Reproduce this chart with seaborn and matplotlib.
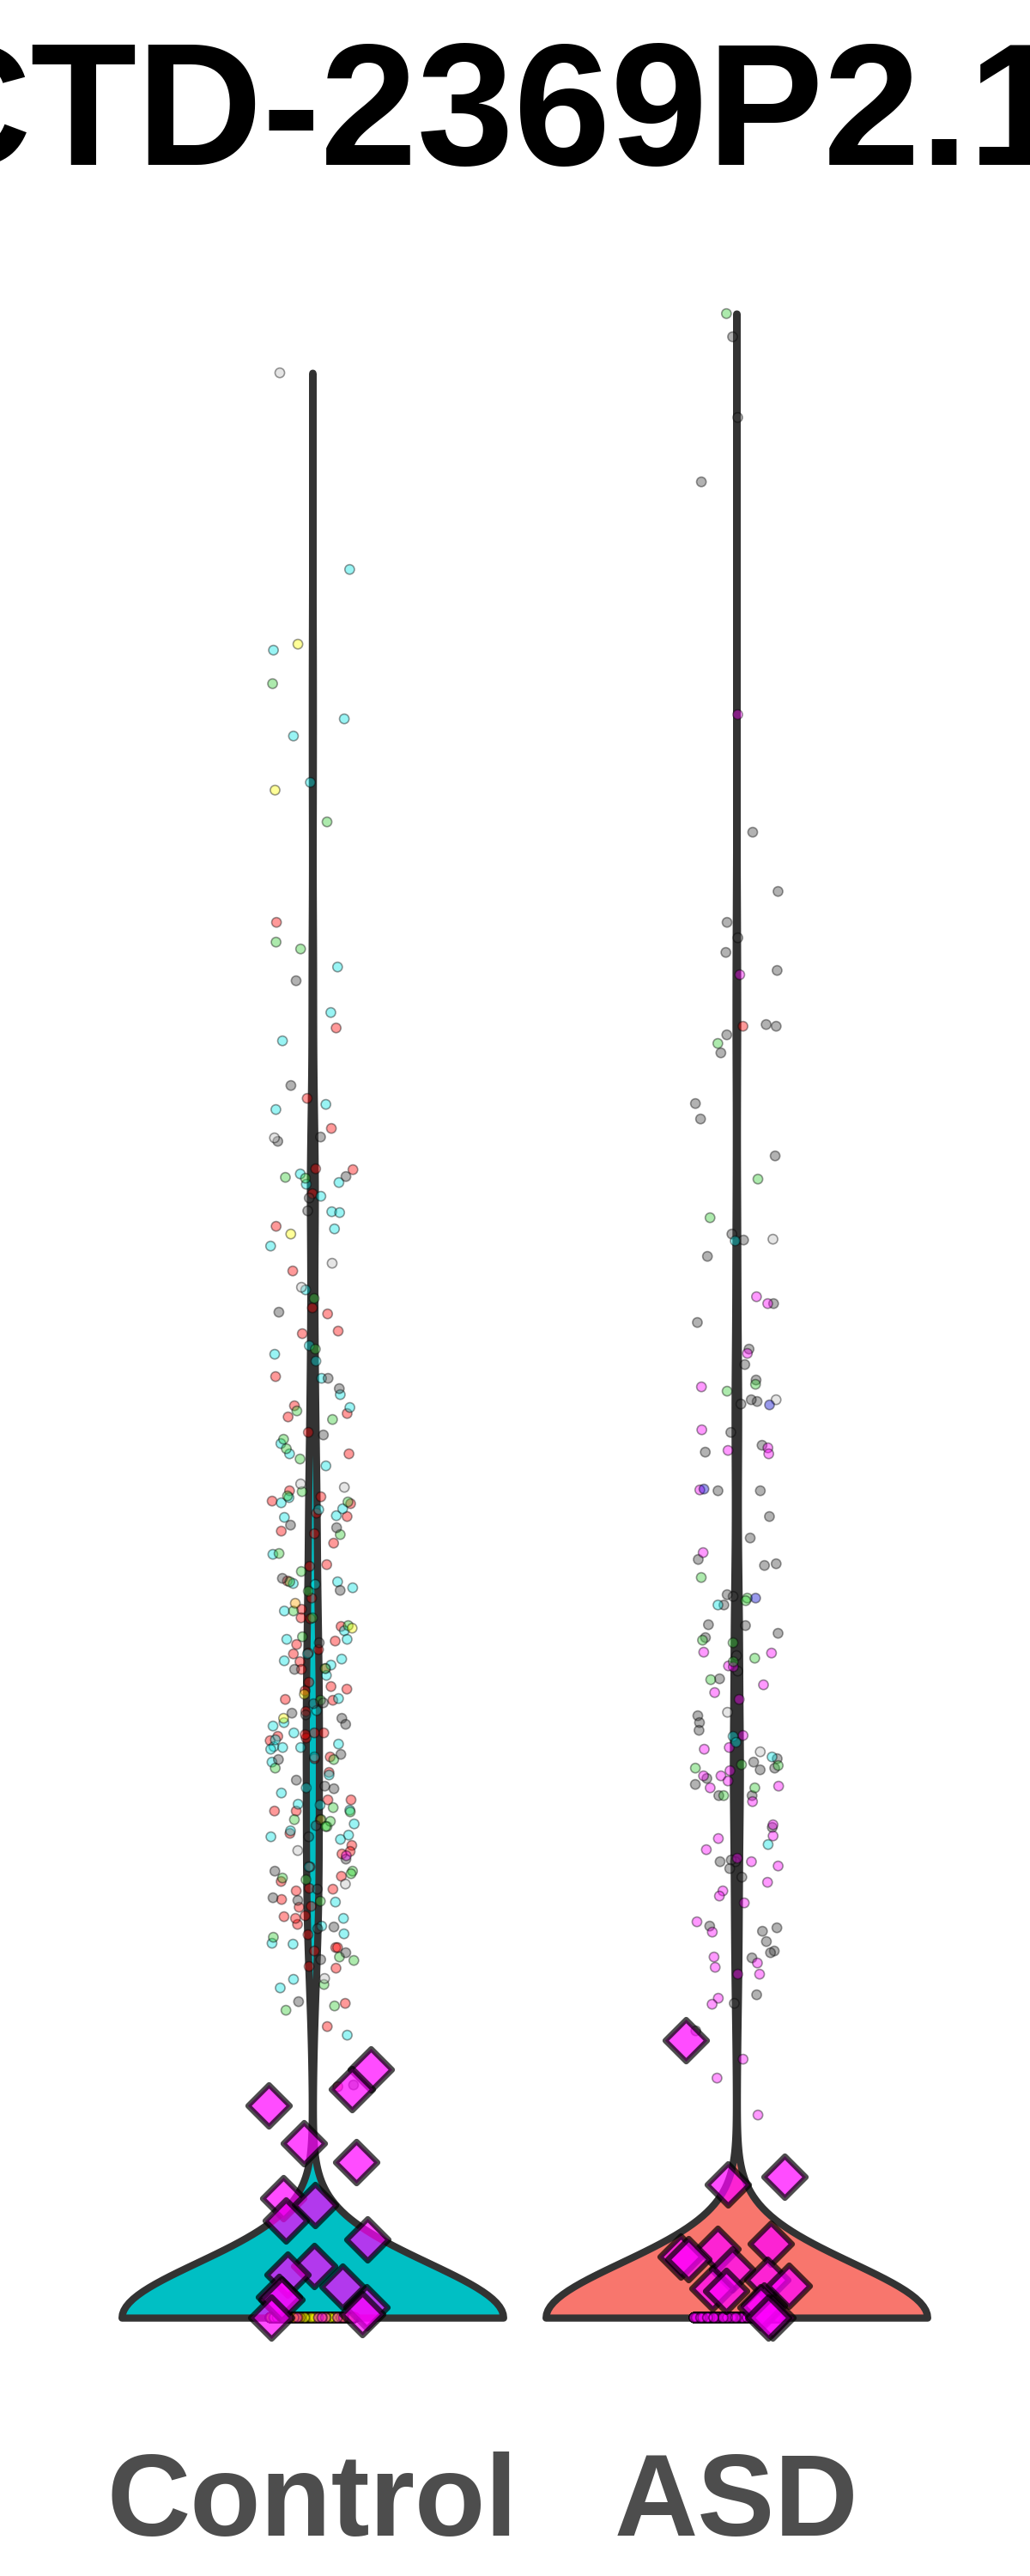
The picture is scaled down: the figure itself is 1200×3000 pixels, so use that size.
import numpy as np
import pandas as pd
import matplotlib
matplotlib.use("Agg")
import matplotlib.pyplot as plt
import seaborn as sns

sns.set_style("white")
plt.rcParams["font.family"] = ["Liberation Sans", "DejaVu Sans"]

# ---------------- data ----------------
gene = "CTD-2369P2.1"
groups = ["Control", "ASD"]
group_colors = {"Control": "#00BFC4", "ASD": "#F8766D"}

cell_types = ["grey", "lightgrey", "red", "cyan", "green", "yellow", "orange", "blue", "magenta"]
cell_colors = {
    "grey": "#404040", "lightgrey": "#BEBEBE", "red": "#FF0000", "cyan": "#00E5E5",
    "green": "#33CC33", "yellow": "#FFFF00", "orange": "#FFA500", "blue": "#0000CD",
    "magenta": "#FF00FF",
}

# non-zero cells, Control
control_red = [1.625, 1.502, 1.420, 1.385, 1.337, 1.338, 1.309, 1.271, 1.219, 1.176, 1.169, 1.149,
               1.146, 1.096, 1.062, 1.053, 1.049, 1.031, 1.006,
               0.951, 0.956, 0.948, 0.963, 0.937, 0.933, 0.916, 0.913, 0.902, 0.877, 0.875, 0.858,
               0.838, 0.825, 0.814, 0.815, 0.805, 0.788, 0.784, 0.778, 0.773, 0.774, 0.764, 0.756,
               0.755, 0.740, 0.735, 0.730, 0.732, 0.720, 0.719, 0.706, 0.675, 0.681, 0.681, 0.679,
               0.672, 0.677, 0.653, 0.651, 0.635, 0.603, 0.603, 0.590, 0.590, 0.580, 0.564, 0.550,
               0.543, 0.540, 0.525, 0.514, 0.508, 0.497, 0.500, 0.499, 0.479, 0.487, 0.478, 0.458,
               0.465, 0.467, 0.468, 0.446, 0.431, 0.431, 0.427, 0.409, 0.407, 0.366, 0.339, 0.269]
control_cyan = [2.036, 1.942, 1.862, 1.842, 1.788,
                1.573, 1.520, 1.487, 1.413, 1.407, 1.332, 1.322, 1.320, 1.306, 1.288, 1.287, 1.268,
                1.248, 1.197, 1.132, 1.122, 1.114, 1.094, 1.075, 1.060, 1.018, 1.006,
                0.992, 0.949, 0.955, 0.941, 0.932, 0.934, 0.942, 0.889, 0.854, 0.857, 0.850, 0.855,
                0.823, 0.800, 0.790, 0.790, 0.773, 0.760, 0.767, 0.765, 0.748, 0.721, 0.707, 0.693,
                0.689, 0.681, 0.668, 0.665, 0.662, 0.664, 0.673, 0.664, 0.647, 0.653, 0.632, 0.617,
                0.611, 0.598, 0.597, 0.591, 0.575, 0.567, 0.560, 0.557, 0.562, 0.525, 0.484, 0.465,
                0.456, 0.447, 0.436, 0.435, 0.394, 0.384, 0.329]
control_green = [1.903, 1.742,
                 1.602, 1.594, 1.327, 1.328, 1.187, 1.128, 1.056, 1.046, 1.023, 1.012, 1.000,
                 0.962, 0.957, 0.950, 0.912, 0.890, 0.869, 0.857, 0.846, 0.823, 0.815, 0.806, 0.793,
                 0.756, 0.719, 0.650, 0.640, 0.594, 0.589, 0.580, 0.580, 0.572, 0.578, 0.572, 0.512,
                 0.520, 0.517, 0.510, 0.485, 0.443, 0.416, 0.420, 0.388, 0.363, 0.358]
control_grey = [1.557, 1.435, 1.375, 1.370, 1.329, 1.304, 1.289, 1.171, 1.094, 1.082, 1.028,
                0.923, 0.920, 0.861, 0.847, 0.786, 0.755, 0.715, 0.716, 0.704, 0.698, 0.702, 0.691,
                0.656, 0.650, 0.619, 0.626, 0.616, 0.573, 0.560, 0.534, 0.520, 0.499, 0.486, 0.489,
                0.455, 0.453, 0.425, 0.417, 0.368, 0.271]
control_lightgrey = [2.265, 1.374, 1.228, 1.200, 0.971, 0.967, 0.544, 0.505, 0.395]
control_yellow = [1.949, 1.779, 1.262, 0.803, 0.726, 0.698]
control_orange = [0.832]
control_magenta = [0.538]

# non-zero cells, ASD
asd_grey = [2.307, 2.213, 2.138, 1.730,
            1.661, 1.625, 1.607, 1.590, 1.569, 1.506, 1.504, 1.494, 1.473, 1.414, 1.396, 1.353,
            1.255, 1.262, 1.236, 1.181, 1.159, 1.128, 1.110, 1.092, 1.067, 1.069, 1.064, 1.031,
            1.016, 1.008,
            0.963, 0.963, 0.933, 0.908, 0.883, 0.876, 0.878, 0.840, 0.842, 0.830, 0.806, 0.807,
            0.792, 0.797, 0.771, 0.753, 0.744, 0.701, 0.693, 0.684, 0.647, 0.638, 0.640, 0.651,
            0.628, 0.621, 0.608, 0.608, 0.571, 0.531, 0.533, 0.523, 0.531, 0.513, 0.456, 0.454,
            0.450, 0.438, 0.427, 0.419, 0.425, 0.376, 0.366, 0.334]
asd_magenta = [1.867, 1.564, 1.189, 1.181, 1.123, 1.084, 1.034, 1.013, 1.006, 1.010,
               0.964, 0.891, 0.775, 0.774, 0.759, 0.758, 0.737, 0.728, 0.720, 0.678, 0.664, 0.662,
               0.637, 0.631, 0.631, 0.625, 0.617, 0.619, 0.601, 0.574, 0.561, 0.558, 0.545, 0.526,
               0.535, 0.531, 0.507, 0.497, 0.483, 0.491, 0.449, 0.461, 0.420, 0.408, 0.413, 0.400,
               0.400, 0.372, 0.365, 0.301, 0.279, 0.236]
asd_green = [2.334, 1.484, 1.326, 1.281, 1.087, 1.079,
             0.862, 0.838, 0.835, 0.789, 0.786, 0.764, 0.768, 0.743, 0.644, 0.643, 0.640, 0.617,
             0.608]
asd_cyan = [1.254, 0.830, 0.677, 0.670, 0.653, 0.551]
asd_lightgrey = [1.256, 1.069, 0.705, 0.659]
asd_blue = [1.063, 0.965, 0.838]
asd_red = [1.504]

# cells with zero expression, per cell type
control_zero_counts = {"grey": 250, "lightgrey": 30, "red": 520, "cyan": 480, "green": 320,
                       "yellow": 70, "orange": 15, "magenta": 15}
asd_zero_counts = {"grey": 850, "lightgrey": 40, "red": 40, "cyan": 90, "green": 230,
                   "blue": 50, "magenta": 700}

# per-sample means (diamonds)
control_means = [0.289, 0.266, 0.247, 0.203, 0.181, 0.139, 0.131, 0.113, 0.091, 0.060,
                 0.050, 0.036, 0.024, 0.021, 0.012, 0.004, 0.000]
asd_means = [0.323, 0.164, 0.155, 0.086, 0.080, 0.071, 0.068, 0.056, 0.044, 0.037,
             0.034, 0.031, 0.014, 0.012, 0.000, 0.000]

# kernel width of the violins, in expression units
kde_sigma = 0.064

# ---------------- build tables ----------------
nonzero = [
    ("Control", "red", control_red), ("Control", "cyan", control_cyan),
    ("Control", "green", control_green), ("Control", "grey", control_grey),
    ("Control", "lightgrey", control_lightgrey), ("Control", "yellow", control_yellow),
    ("Control", "orange", control_orange), ("Control", "magenta", control_magenta),
    ("ASD", "grey", asd_grey), ("ASD", "magenta", asd_magenta), ("ASD", "green", asd_green),
    ("ASD", "cyan", asd_cyan), ("ASD", "lightgrey", asd_lightgrey), ("ASD", "blue", asd_blue),
    ("ASD", "red", asd_red),
]
rows = []
for grp, ct, vals in nonzero:
    rows += [(grp, ct, v) for v in vals]
for grp, counts in (("Control", control_zero_counts), ("ASD", asd_zero_counts)):
    for ct, n in counts.items():
        rows += [(grp, ct, 0.0)] * n
cells = pd.DataFrame(rows, columns=["group", "cell_type", "expr"])

means = pd.DataFrame(
    [("Control", v) for v in control_means] + [("ASD", v) for v in asd_means],
    columns=["group", "expr"],
)

# ---------------- plot ----------------
np.random.seed(7)
fig = plt.figure(figsize=(12, 30), dpi=100)
ax = fig.add_axes([0.0563, 0.0613, 0.9057, 0.8563])

for grp in groups:
    sub = cells[cells["group"] == grp]
    sns.violinplot(
        data=sub, x="group", y="expr", order=groups, color=group_colors[grp],
        density_norm="width", cut=0, width=0.9, inner=None, saturation=1,
        linewidth=6, linecolor="#333333", bw_method=kde_sigma / sub["expr"].std(ddof=0),
        gridsize=512, ax=ax,
    )

sns.stripplot(
    data=cells, x="group", y="expr", hue="cell_type", order=groups, hue_order=cell_types,
    palette=cell_colors, legend=False, jitter=0.1, size=8, alpha=0.4,
    edgecolor="black", linewidth=1.2, ax=ax,
)
sns.stripplot(
    data=means, x="group", y="expr", order=groups, marker="D", color="#FF00FF",
    size=25, alpha=0.7, edgecolor="black", linewidth=4.5, jitter=0.15, ax=ax,
)

ax.set_xlim(-0.6, 1.6)
ax.set_ylim(-0.117, 2.452)
ax.set_xlabel("")
ax.set_ylabel("")
ax.set_yticks([])
ax.tick_params(axis="x", length=0, pad=28, labelsize=97, labelcolor="#4D4D4D")
for lbl in ax.get_xticklabels():
    lbl.set_fontweight("bold")
for sp in ax.spines.values():
    sp.set_visible(False)

fig.text(0.471, 0.936, gene, ha="center", va="baseline", fontsize=146,
         fontweight="bold", color="black")

fig.savefig("out.png", dpi=100)
plt.close(fig)
